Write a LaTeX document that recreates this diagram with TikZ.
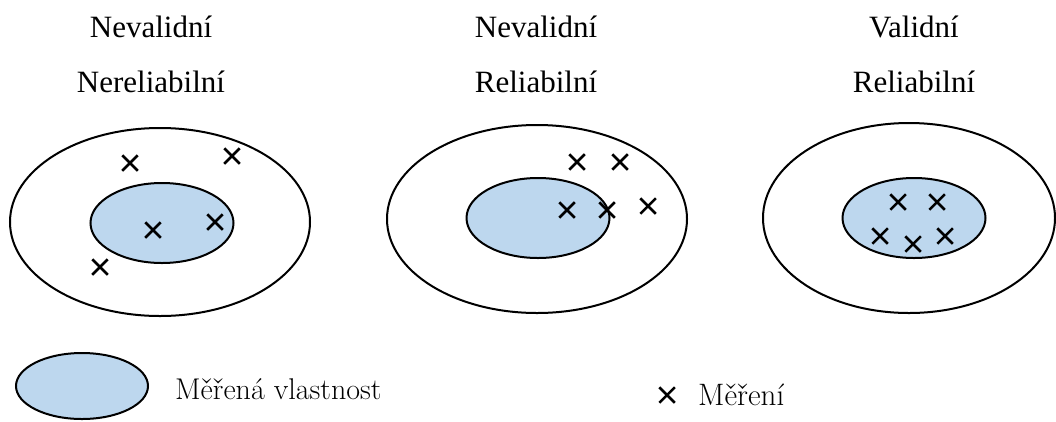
\documentclass[tikz,border=0pt]{standalone}
\usepackage{fontspec}
\newfontfamily\timesfont{Liberation Serif}
\usetikzlibrary{positioning,shapes.geometric,shapes.misc}
\definecolor{propblue}{RGB}{189,215,238}
\tikzset{
	outer/.style={ellipse,draw,line width=2pt,minimum width=300pt,minimum height=188pt,inner sep=0pt},
	prop/.style={ellipse,draw,line width=2pt,fill=propblue,minimum width=143pt,minimum height=80pt,inner sep=0pt},
	meas/.style={cross out,draw,line width=2.5pt,minimum size=13pt,inner sep=0pt},
	heading/.style={font=\timesfont\fontsize{31}{37}\selectfont,anchor=base,inner sep=0pt},
	legend/.style={font=\fontsize{30}{36}\selectfont,anchor=base west,inner sep=0pt}
}

\begin{document}
\begin{tikzpicture}[x=1pt,y=-1pt]
\useasboundingbox (0,0) rectangle (1056,421);

% nevalidni, nereliabilni
\node[heading] (t1a) at (151,37) {Nevalidní};
\node[heading] (t1b) at (151,92) {Nereliabilní};
\node[outer] (o1) at (160,222) {};
\node[prop] (p1) at (162,223) {};
\foreach \x/\y [count=\i] in {130/163,232/156,153/230,215/222,100/267}
	\node[meas] (a\i) at (\x,\y) {};

% nevalidni, reliabilni
\node[heading] (t2a) at (536,37) {Nevalidní};
\node[heading] (t2b) at (536,92) {Reliabilní};
\node[outer] (o2) at (537,219) {};
\node[prop] (p2) at (538,218) {};
\foreach \x/\y [count=\i] in {577/162,620/162,567/210,607/210,648/206}
	\node[meas] (b\i) at (\x,\y) {};

% validni, reliabilni
\node[heading] (t3a) at (914,37) {Validní};
\node[heading] (t3b) at (914,92) {Reliabilní};
\node[outer, minimum width=292pt, minimum height=190pt] (o3) at (909,218) {};
\node[prop] (p3) at (914,218) {};
\foreach \x/\y [count=\i] in {898/202,937/202,880/236,913/244,945/236}
	\node[meas] (c\i) at (\x,\y) {};

% legenda
\node[prop, minimum width=132pt, minimum height=66pt] (lg) at (82,386) {};
\node[legend] (lgtext) at (175,399) {Měřená vlastnost};
\node[meas] (lm) at (667,395) {};
\node[legend, font=\fontsize{31}{37}\selectfont] (lmtext) at (698,405) {Měření};
\end{tikzpicture}
\end{document}
